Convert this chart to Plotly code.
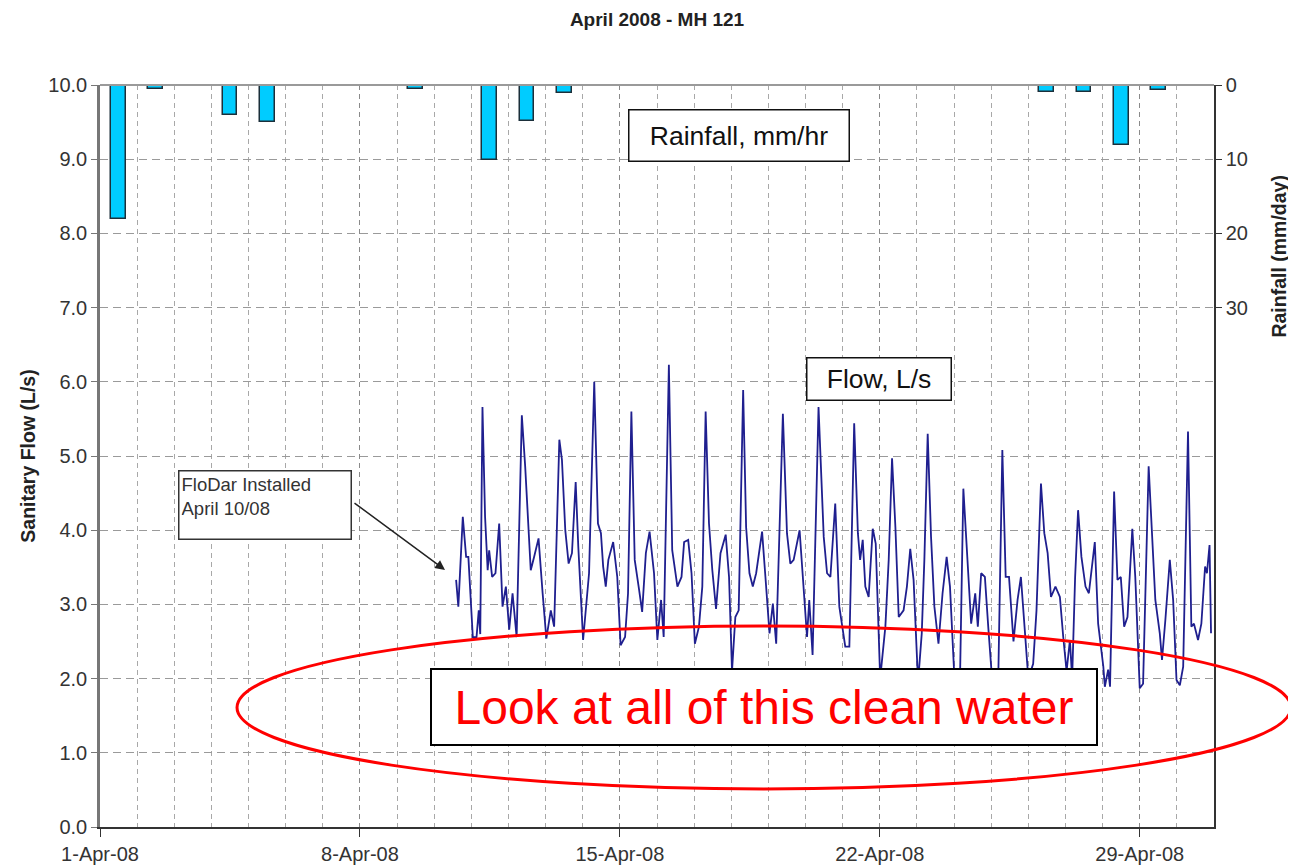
import pandas as pd
import plotly.graph_objects as go

# ---------------- data ----------------
rain_dates = ["2008-04-01", "2008-04-02", "2008-04-04", "2008-04-05", "2008-04-09",
              "2008-04-11", "2008-04-12", "2008-04-13", "2008-04-26", "2008-04-27",
              "2008-04-28", "2008-04-29"]
rain_mm = [18.0, 0.6, 4.0, 5.0, 0.6, 10.1, 4.9, 1.1, 1.0, 1.0, 8.1, 0.7]

# flow: time in days after 1-Apr-08 00:00, and flow in L/s
flow_days = [
    9.59, 9.65, 9.77, 9.86, 9.92, 10.04, 10.14, 10.20, 10.24, 10.30, 10.37, 10.44, 10.48, 10.56,
    10.65, 10.75, 10.84, 10.93, 11.02, 11.11, 11.22, 11.36, 11.45, 11.60, 11.69, 11.81, 11.92,
    12.02, 12.14, 12.23, 12.37, 12.44, 12.53, 12.62, 12.71, 12.81, 12.88, 13.01, 13.17, 13.31,
    13.41, 13.49, 13.55, 13.62, 13.69, 13.82, 13.93, 14.02, 14.14, 14.22, 14.31, 14.40, 14.52,
    14.60, 14.70, 14.80, 14.92, 15.01, 15.11, 15.18, 15.32, 15.41, 15.55, 15.66, 15.73, 15.84,
    15.93, 16.02, 16.13, 16.22, 16.31, 16.40, 16.49, 16.59, 16.71, 16.85, 16.94, 17.02, 17.11,
    17.20, 17.32, 17.40, 17.49, 17.58, 17.67, 17.83, 17.92, 18.03, 18.12, 18.21, 18.39, 18.50,
    18.59, 18.68, 18.84, 18.95, 19.04, 19.10, 19.19, 19.35, 19.49, 19.58, 19.67, 19.80, 19.91,
    20.07, 20.18, 20.31, 20.41, 20.47, 20.54, 20.61, 20.70, 20.81, 20.89, 21.01, 21.15, 21.24,
    21.33, 21.42, 21.51, 21.64, 21.73, 21.82, 21.91, 22.03, 22.13, 22.20, 22.29, 22.38, 22.47,
    22.58, 22.69, 22.80, 22.89, 23.01, 23.16, 23.25, 23.34, 23.46, 23.57, 23.64, 23.73, 23.83,
    23.92, 24.03, 24.19, 24.30, 24.39, 24.48, 24.60, 24.71, 24.80, 24.91, 25.00, 25.13, 25.22,
    25.34, 25.43, 25.52, 25.61, 25.73, 25.85, 25.94, 26.03, 26.12, 26.18, 26.26, 26.34, 26.43,
    26.54, 26.63, 26.70, 26.79, 26.88, 27.02, 27.06, 27.15, 27.20, 27.31, 27.40, 27.49, 27.58,
    27.67, 27.80, 27.88, 28.00, 28.09, 28.24, 28.33, 28.42, 28.54, 28.60, 28.69, 28.81, 28.90,
    28.99, 29.08, 29.17, 29.30, 29.39, 29.46, 29.57, 29.66, 29.76, 29.81, 29.88, 29.92]
flow_ls = [
    3.33, 2.97, 4.18, 3.64, 3.64, 2.56, 2.56, 2.92, 2.60, 5.66, 4.18, 3.46, 3.73, 3.37,
    3.42, 4.09, 2.97, 3.24, 2.66, 3.15, 2.56, 5.55, 4.86, 3.46, 3.64, 3.89, 3.15,
    2.54, 2.92, 2.70, 5.22, 4.95, 4.00, 3.55, 3.69, 4.65, 3.78, 2.52, 3.42, 6.00,
    4.09, 3.96, 3.51, 3.24, 3.60, 3.84, 3.37, 2.45, 2.56, 3.15, 5.60, 3.60, 3.19,
    2.90, 3.69, 3.98, 3.42, 2.52, 3.06, 2.56, 6.23, 3.73, 3.24, 3.37, 3.84, 3.87,
    3.42, 2.47, 2.70, 3.24, 5.60, 4.09, 3.46, 2.94, 3.69, 3.94, 3.37, 2.10, 2.83,
    2.92, 5.89, 4.04, 3.42, 3.24, 3.42, 3.98, 3.37, 2.61, 3.01, 2.47, 5.57, 3.96,
    3.55, 3.60, 4.00, 3.24, 2.56, 3.06, 2.32, 5.66, 3.91, 3.42, 3.37, 4.36, 2.97,
    2.43, 2.43, 5.44, 3.96, 3.60, 3.87, 3.24, 3.10, 4.02, 3.82, 2.00, 2.70, 3.60,
    4.97, 4.04, 2.83, 2.92, 3.24, 3.75, 3.33, 1.95, 2.61, 3.60, 5.30, 3.91, 2.97,
    2.47, 3.15, 3.64, 3.24, 2.00, 2.00, 4.56, 3.78, 2.74, 3.15, 2.70, 3.42, 3.37,
    2.70, 1.95, 2.00, 5.08, 3.37, 3.37, 2.50, 3.06, 3.37, 2.66, 2.00, 2.20, 2.92,
    4.63, 3.96, 3.69, 3.10, 3.24, 3.10, 2.56, 2.10, 2.52, 2.00, 3.37, 4.27, 3.64,
    3.24, 3.15, 3.42, 3.84, 2.74, 2.16, 1.89, 2.12, 1.89, 4.52, 3.33, 3.37, 2.70,
    2.83, 4.02, 3.37, 1.87, 1.93, 4.86, 4.04, 3.06, 2.61, 2.25, 2.79, 3.60, 3.06,
    1.98, 1.91, 2.16, 5.33, 2.70, 2.74, 2.52, 2.74, 3.51, 3.42, 3.80, 2.61]

xtick_dates = ["2008-04-01", "2008-04-08", "2008-04-15", "2008-04-22", "2008-04-29"]
xtick_text = ["1-Apr-08", "8-Apr-08", "15-Apr-08", "22-Apr-08", "29-Apr-08"]
flow_ticks = [0, 1, 2, 3, 4, 5, 6, 7, 8, 9, 10]
rain_ticks = [0, 10, 20, 30]

# ---------------- build ----------------
start = pd.Timestamp("2008-04-01")
flow_time = start + pd.to_timedelta(flow_days, unit="D")
rain_time = pd.to_datetime(rain_dates) + pd.Timedelta(hours=12)

FONT = "Liberation Sans, Arial, sans-serif"
DAY_MS = 86400000
OFF = 8  # the page body has an 8px margin (top/left)

fig = go.Figure()
fig.add_trace(go.Scatter(
    x=flow_time, y=flow_ls, mode="lines", name="Flow, L/s",
    line=dict(color="#1f1f8f", width=1.8), yaxis="y"))
fig.add_trace(go.Bar(
    x=rain_time, y=rain_mm, name="Rainfall", yaxis="y2",
    width=0.40 * DAY_MS,
    marker=dict(color="#00CCFF", line=dict(color="#1b2f3a", width=1.5))))

W, H = 1296 - OFF, 865 - OFF
fig.update_layout(
    width=W, height=H,
    margin=dict(l=100 - OFF, r=82, t=85 - OFF, b=38, autoexpand=False),
    paper_bgcolor="white", plot_bgcolor="white",
    showlegend=False, bargap=0,
    font=dict(family=FONT, size=19, color="#333333"),
    title=dict(text="<b>April 2008 - MH 121</b>", x=0.5, xref="paper", xanchor="center",
               y=1 - (19 - OFF) / H, yref="container", yanchor="middle",
               font=dict(family=FONT, size=19, color="#222222")),
    xaxis=dict(
        type="date", range=["2008-04-01", "2008-05-01"], automargin=False,
        tickvals=xtick_dates, ticktext=xtick_text,
        ticks="outside", ticklen=8, tickcolor="#333333", tickwidth=1,
        tickfont=dict(family=FONT, size=20, color="#333333"),
        showline=True, linecolor="#333333", linewidth=2,
        showgrid=True, gridcolor="#8a8a8a", griddash="5px,4px", gridwidth=1,
        minor=dict(dtick=DAY_MS, tick0="2008-04-01", showgrid=True,
                   gridcolor="#a8a8a8", griddash="5px,4px", gridwidth=1, ticks=""),
        zeroline=False),
    yaxis=dict(
        range=[0, 10], tickvals=flow_ticks, tickformat=".1f", automargin=False,
        ticks="outside", ticklen=6, tickcolor="#777777",
        tickfont=dict(family=FONT, size=20, color="#333333"),
        showline=True, linecolor="#777777", linewidth=2.5,
        showgrid=True, gridcolor="#9a9a9a", griddash="8px,5px", gridwidth=1,
        zeroline=False,
        title=dict(text="<b>Sanitary Flow (L/s)</b>", standoff=8,
                   font=dict(family=FONT, size=19.5, color="#222222"))),
    yaxis2=dict(
        overlaying="y", side="right", range=[100, 0], tickvals=rain_ticks, automargin=False,
        ticks="outside", ticklen=6, tickcolor="#333333",
        tickfont=dict(family=FONT, size=20, color="#333333"),
        showline=True, linecolor="#333333", linewidth=1.5,
        showgrid=False, zeroline=False),
)

# top frame line
fig.add_shape(type="line", xref="paper", yref="paper", x0=0, x1=1, y0=1, y1=1,
              line=dict(color="#9a9a9a", width=2))

# red ellipse
fig.add_shape(type="circle", xref="paper", yref="paper",
              x0=0.123, x1=1.069, y0=0.0512, y1=0.2709,
              line=dict(color="#FF0000", width=3), layer="above")

# right axis title
fig.add_annotation(text="<b>Rainfall (mm/day)</b>", xref="paper", yref="paper",
                   x=1.0585, y=0.769, xanchor="center", yanchor="middle",
                   textangle=-90, showarrow=False,
                   font=dict(family=FONT, size=19.5, color="#222222"))

# boxed labels
fig.add_annotation(text="Rainfall, mm/hr", xref="paper", yref="paper",
                   x=0.574, y=0.9326, xanchor="center", yanchor="middle",
                   showarrow=False, width=219, height=50,
                   bgcolor="white", bordercolor="#111111", borderwidth=1.5, borderpad=0,
                   font=dict(family=FONT, size=26.5, color="#111111"))
fig.add_annotation(text="Flow, L/s", xref="paper", yref="paper",
                   x=0.6993, y=0.6031, xanchor="center", yanchor="middle",
                   showarrow=False, width=143, height=41,
                   bgcolor="white", bordercolor="#111111", borderwidth=1.5, borderpad=0,
                   font=dict(family=FONT, size=26.5, color="#111111"))
fig.add_annotation(text="FloDar Installed<br>April 10/08", xref="paper", yref="paper",
                   x=0.1480, y=0.4346, xanchor="center", yanchor="middle",
                   showarrow=False, width=167, height=63,
                   align="left", valign="top",
                   bgcolor="white", bordercolor="#333333", borderwidth=1.5, borderpad=2,
                   font=dict(family=FONT, size=18.5, color="#333333"))
# arrow
fig.add_annotation(text="", xref="paper", yref="paper", x=0.3097, y=0.3464,
                   showarrow=True, ax=-92, ay=-68, arrowhead=2, arrowsize=1.3,
                   arrowwidth=1.5, arrowcolor="#222222")
# big message
fig.add_annotation(text="Look at all of this clean water", xref="paper", yref="paper",
                   x=0.596, y=0.1617, xanchor="center", yanchor="middle",
                   showarrow=False, width=664, height=74,
                   bgcolor="white", bordercolor="#000000", borderwidth=2, borderpad=0,
                   font=dict(family=FONT, size=48, color="#FF0000"))

fig.write_html("out.html")
